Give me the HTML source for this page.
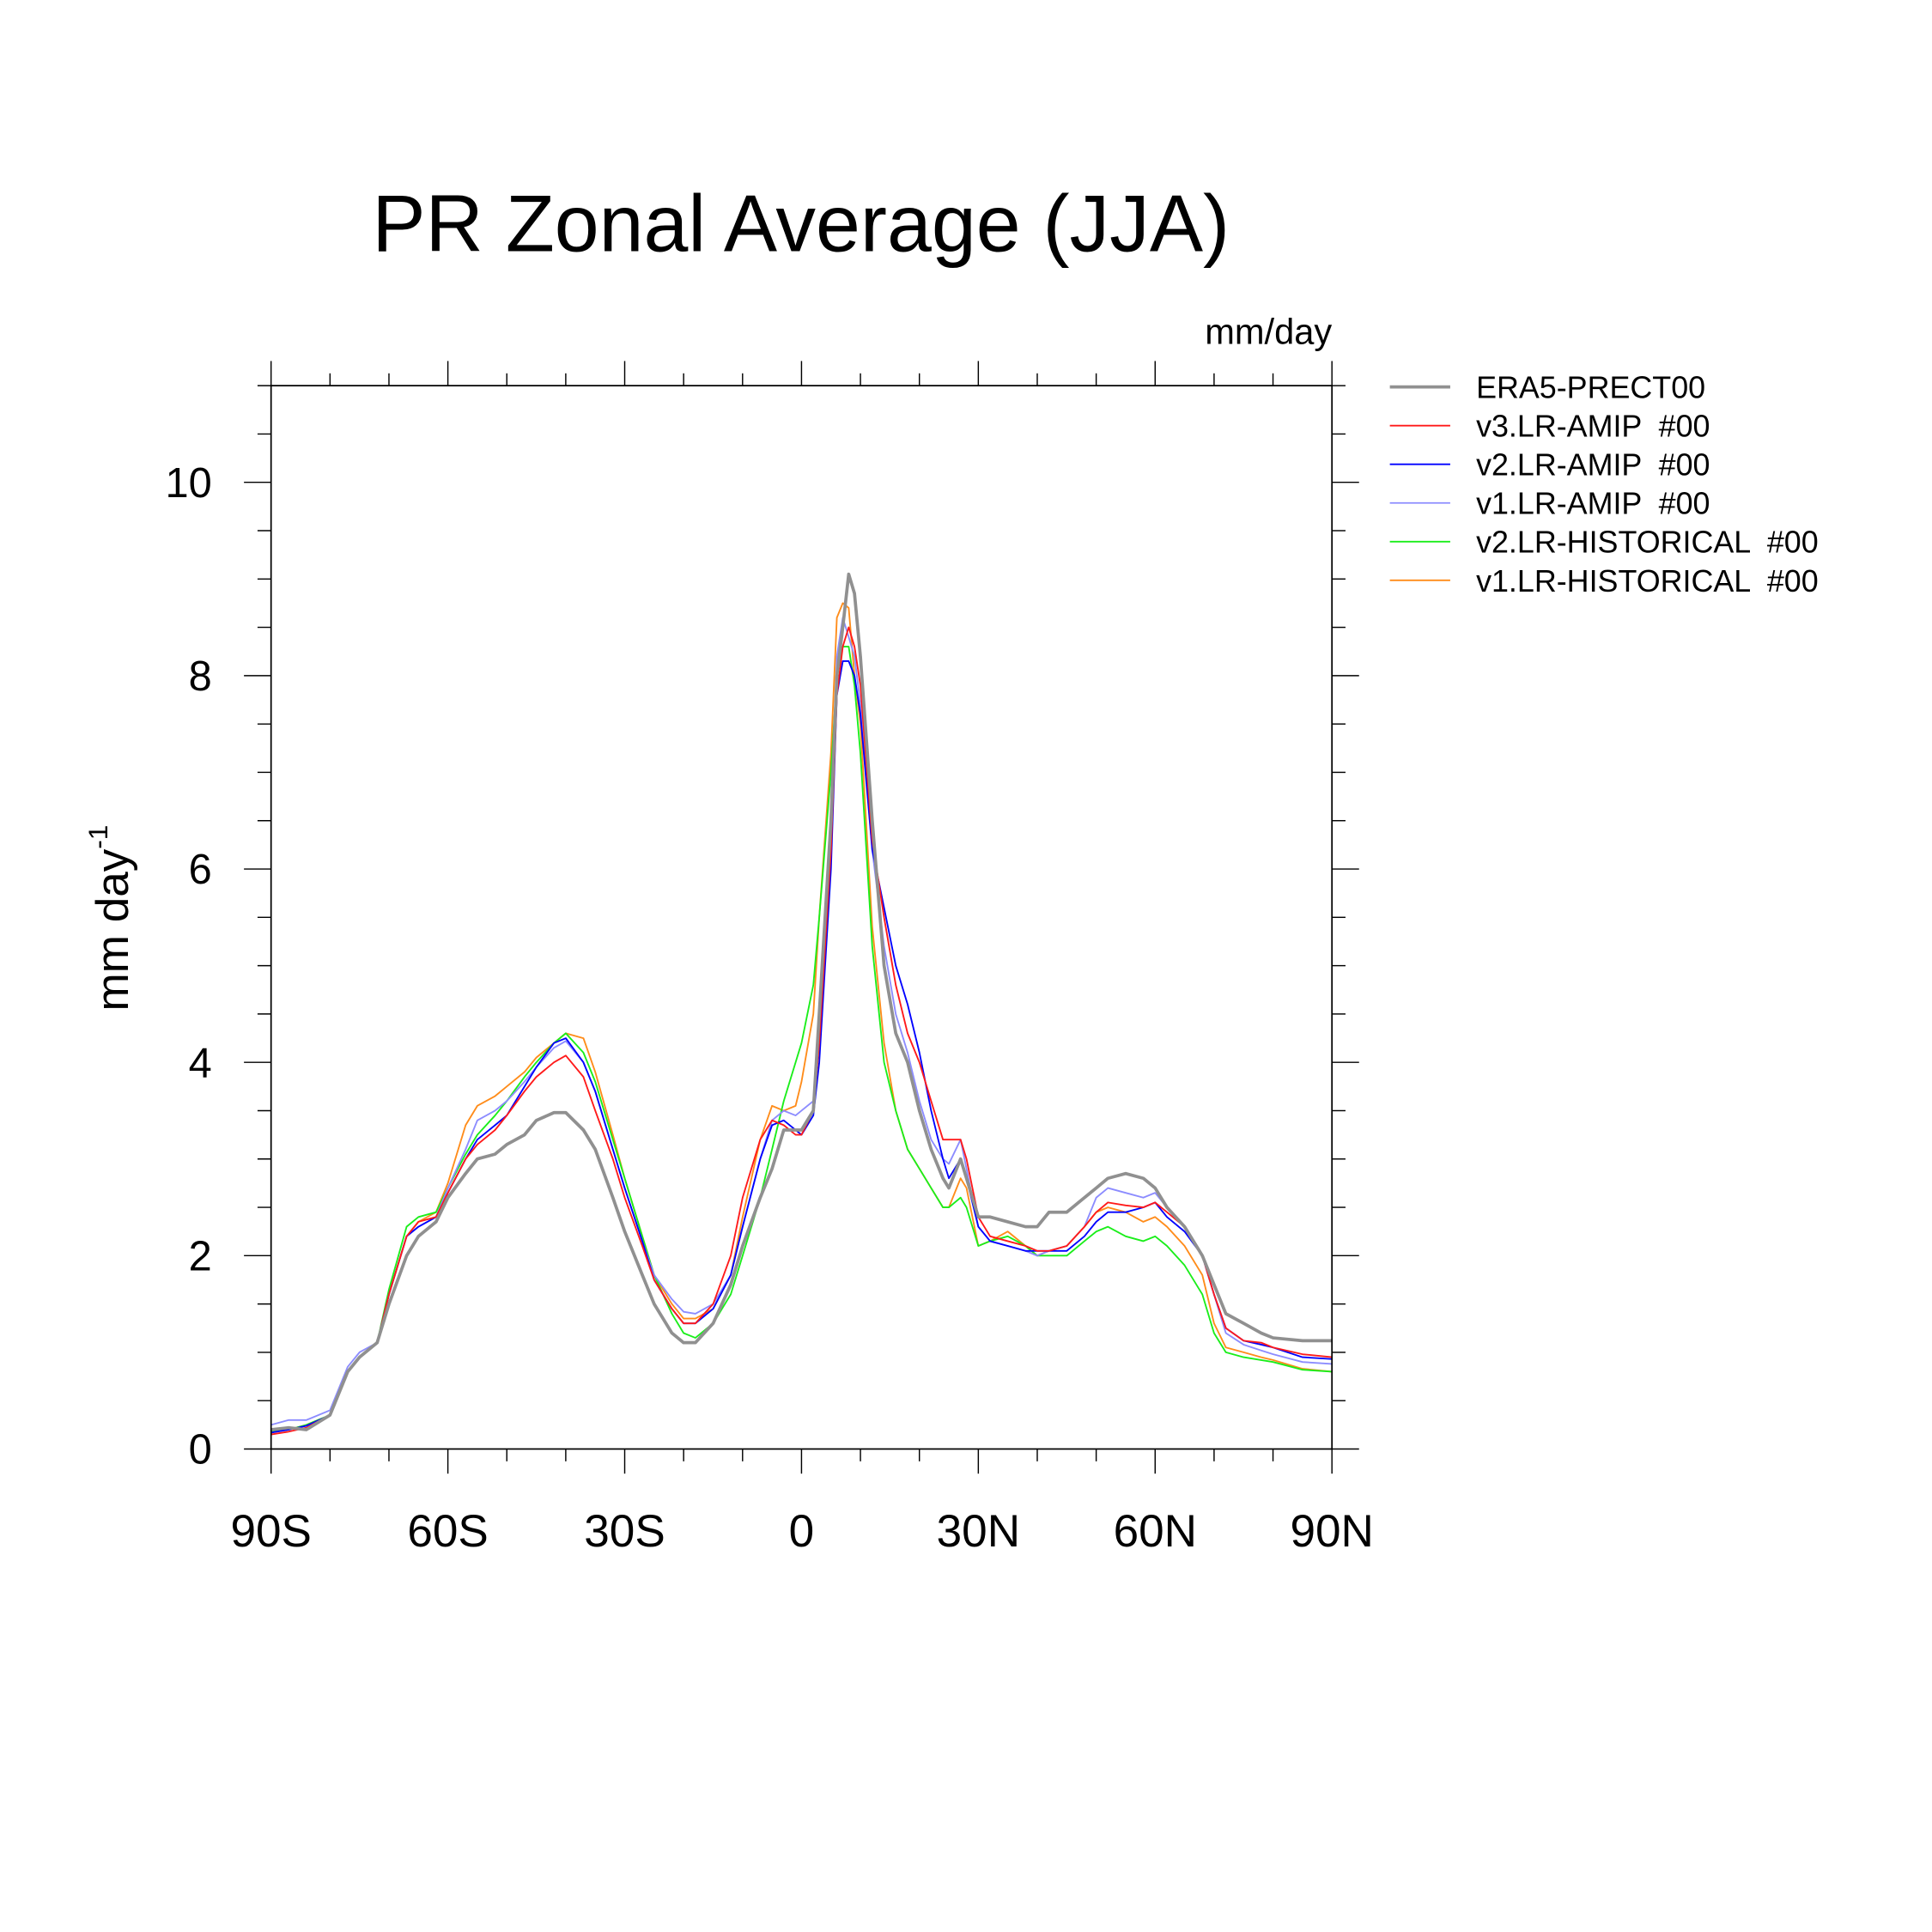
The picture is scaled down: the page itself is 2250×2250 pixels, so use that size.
<!DOCTYPE html>
<html><head><meta charset="utf-8"><style>
html,body{margin:0;padding:0;background:#fff;}
svg{display:block;font-family:"Liberation Sans",sans-serif;}
</style></head><body>
<svg id="chart" width="2250" height="2250" viewBox="0 0 1568 1568" xmlns="http://www.w3.org/2000/svg">
<rect width="1568" height="1568" fill="#fff"/>
<text x="650" y="204" font-size="65" text-anchor="middle">PR Zonal Average (JJA)</text>
<text x="1081" y="279" font-size="29" text-anchor="end">mm/day</text>
<text transform="translate(104,745) rotate(-90)" font-size="37" text-anchor="middle">mm day<tspan dy="-17" font-size="22">-1</tspan></text>
<g id="ticks"></g>
<g id="series"></g>
<rect x="220" y="313" width="861" height="863" fill="none" stroke="#000" stroke-width="1.2"/>
<g id="legend"></g>
</svg>
<script>
const lats=[-90,-87,-84,-80,-77,-75,-72,-70,-67,-65,-62,-60,-57,-55,-52,-50,-47,-45,-42,-40,-37,-35,-32,-30,-27,-25,-22,-20,-18,-15,-12,-10,-7,-5,-3,-1,0,2,3,5,6,7,8,9,10,12,14,16,18,20,22,24,25,27,28,30,32,35,38,40,42,45,48,50,52,55,58,60,62,65,68,70,72,75,78,80,85,90];
const era5=[0.2,0.22,0.2,0.35,0.8,0.95,1.1,1.5,2.0,2.2,2.35,2.6,2.85,3.0,3.05,3.15,3.25,3.4,3.48,3.48,3.3,3.1,2.6,2.25,1.8,1.5,1.2,1.1,1.1,1.3,1.7,2.1,2.6,2.9,3.3,3.3,3.3,3.5,4.5,6.5,8.0,8.5,9.05,8.85,8.2,6.5,5.0,4.3,4.0,3.5,3.1,2.8,2.7,3.0,2.8,2.4,2.4,2.35,2.3,2.3,2.45,2.45,2.6,2.7,2.8,2.85,2.8,2.7,2.5,2.3,2.0,1.7,1.4,1.3,1.2,1.15,1.12,1.12];
const v3amip=[0.15,0.18,0.22,0.35,0.8,0.95,1.1,1.6,2.2,2.35,2.4,2.65,3.0,3.15,3.3,3.45,3.7,3.85,4.0,4.07,3.85,3.5,3.0,2.6,2.1,1.75,1.45,1.3,1.3,1.5,2.0,2.6,3.2,3.4,3.35,3.25,3.25,3.5,4.2,6.2,7.8,8.3,8.5,8.3,7.9,6.3,5.5,4.8,4.3,4.0,3.6,3.2,3.2,3.2,3.0,2.4,2.2,2.15,2.1,2.05,2.05,2.1,2.3,2.45,2.55,2.52,2.5,2.55,2.45,2.3,2.0,1.6,1.25,1.12,1.1,1.05,0.98,0.95];
const v2amip=[0.17,0.2,0.24,0.35,0.8,0.95,1.1,1.6,2.2,2.3,2.4,2.65,3.0,3.2,3.35,3.45,3.75,3.95,4.2,4.25,4.0,3.7,3.1,2.7,2.15,1.75,1.45,1.3,1.3,1.45,1.8,2.3,3.0,3.35,3.4,3.3,3.25,3.45,4.0,6.0,7.8,8.15,8.15,8.0,7.6,6.2,5.6,5.0,4.6,4.1,3.5,3.0,2.8,3.0,2.8,2.3,2.15,2.1,2.05,2.05,2.05,2.05,2.2,2.35,2.45,2.45,2.5,2.55,2.4,2.25,2.0,1.6,1.25,1.12,1.08,1.05,0.95,0.93];
const v1amip=[0.25,0.3,0.3,0.4,0.85,1.0,1.1,1.6,2.2,2.3,2.4,2.7,3.1,3.4,3.5,3.6,3.8,3.95,4.15,4.22,4.0,3.7,3.1,2.7,2.15,1.8,1.55,1.42,1.4,1.5,1.8,2.3,3.0,3.4,3.5,3.45,3.5,3.6,4.3,6.3,8.2,8.6,8.4,8.2,7.7,6.2,5.2,4.5,4.1,3.6,3.2,3.0,2.95,3.2,2.9,2.3,2.15,2.1,2.05,2.0,2.05,2.1,2.3,2.6,2.7,2.65,2.6,2.65,2.5,2.3,2.0,1.6,1.2,1.08,1.02,0.98,0.9,0.88];
const v2hist=[0.18,0.2,0.25,0.35,0.8,0.95,1.1,1.65,2.3,2.4,2.45,2.7,3.05,3.25,3.45,3.6,3.85,4.0,4.2,4.3,4.1,3.8,3.2,2.8,2.2,1.8,1.4,1.2,1.15,1.3,1.6,2.0,2.6,3.1,3.6,4.0,4.2,4.8,5.5,7.0,8.0,8.3,8.3,7.9,7.2,5.2,4.0,3.5,3.1,2.9,2.7,2.5,2.5,2.6,2.5,2.1,2.15,2.2,2.1,2.0,2.0,2.0,2.15,2.25,2.3,2.2,2.15,2.2,2.1,1.9,1.6,1.2,1.0,0.95,0.92,0.9,0.82,0.8];
const v1hist=[0.18,0.2,0.25,0.35,0.8,0.95,1.1,1.6,2.2,2.35,2.45,2.75,3.35,3.55,3.65,3.75,3.9,4.05,4.2,4.3,4.25,3.9,3.25,2.8,2.2,1.8,1.5,1.35,1.35,1.45,1.8,2.4,3.2,3.55,3.5,3.55,3.8,4.5,5.5,7.2,8.6,8.75,8.7,8.0,7.5,5.4,4.2,3.5,3.1,2.9,2.7,2.5,2.5,2.8,2.7,2.1,2.15,2.25,2.1,2.0,2.05,2.1,2.3,2.45,2.5,2.45,2.35,2.4,2.3,2.1,1.8,1.3,1.05,1.0,0.95,0.92,0.83,0.8];
const seriesNames=["ERA5-PRECT00","v3.LR-AMIP  #00","v2.LR-AMIP  #00","v1.LR-AMIP  #00","v2.LR-HISTORICAL  #00","v1.LR-HISTORICAL  #00"];
const xTickVals=[-90,-60,-30,0,30,60,90];
const xTickLabels=["90S","60S","30S","0","30N","60N","90N"];
const yTickVals=[0,2,4,6,8,10];

const NS="http://www.w3.org/2000/svg";
const X0=220,X1=1081,Y0=1176,Y1=313,YMAX=11;
function xs(v){return X0+(v+90)/180*(X1-X0);}
function ys(v){return Y0-v/YMAX*(Y0-Y1);}
function mk(tag,attrs,parent){const e=document.createElementNS(NS,tag);for(const k in attrs)e.setAttribute(k,attrs[k]);parent.appendChild(e);return e;}
const tk=document.getElementById('ticks');
for(let v=-90;v<=90;v+=10){
  const major=v%30===0;const L=major?20:10;const x=xs(v);
  const a=mk('line',{x1:x,x2:x,y1:Y0,y2:Y0+L,stroke:'#000','stroke-width':1},tk);
  
  
  const b=mk('line',{x1:x,x2:x,y1:Y1,y2:Y1-L,stroke:'#000','stroke-width':1},tk);
  
  
}
xTickVals.forEach((v,i)=>{
  const t=mk('text',{x:xs(v),y:1255,'font-size':37,'text-anchor':'middle'},tk);t.textContent=xTickLabels[i];
  
  
});
for(let v=0;v<=11.001;v+=0.5){
  const major=Math.abs(v%2)<1e-6;const L=major?22:11;const y=ys(v);
  const a=mk('line',{x1:X0-L,x2:X0,y1:y,y2:y,stroke:'#000','stroke-width':1},tk);
  
  
  const b=mk('line',{x1:X1,x2:X1+L,y1:y,y2:y,stroke:'#000','stroke-width':1},tk);
  
  
}
yTickVals.forEach(v=>{
  const t=mk('text',{x:172,y:ys(v)+12,'font-size':34,'text-anchor':'end'},tk);t.textContent=String(v);
  
  
});
const data=[era5,v3amip,v2amip,v1amip,v2hist,v1hist];
const colors=["#909090","#ff1a1a","#0000ff","#8c8cff","#1aee1a","#ff8c1a"];
const widths=[2.6,1.3,1.3,1.3,1.3,1.3];
const sg=document.getElementById('series');
const order=[5,4,3,2,1,0];
order.forEach(i=>{
  const arr=data[i];const n=Math.min(arr.length,lats.length);
  let d='';for(let k=0;k<n;k++)d+=(k?'L':'M')+xs(lats[k]).toFixed(1)+' '+ys(arr[k]).toFixed(1);
  const p=mk('path',{d:d,fill:'none',stroke:colors[i],'stroke-width':widths[i],'stroke-linejoin':'round'},sg);
  
  
});
const lg=document.getElementById('legend');
seriesNames.forEach((nm,i)=>{
  const y=314+i*31.4;
  const l=mk('line',{x1:1128,x2:1177,y1:y,y2:y,stroke:colors[i],'stroke-width':widths[i]},lg);
  
  
  const t=mk('text',{x:1198,y:y+9,'font-size':25},lg);
  t.style.whiteSpace='pre';t.textContent=nm;
  
  
});
</script>
</body></html>
